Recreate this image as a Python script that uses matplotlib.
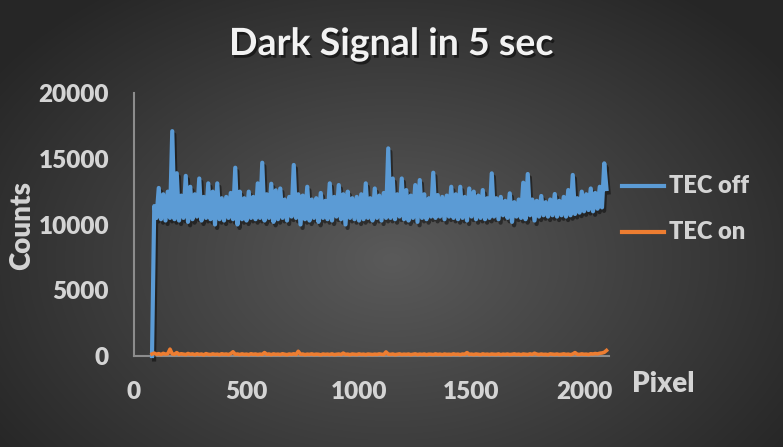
import numpy as np
import matplotlib
matplotlib.use("Agg")
import matplotlib.pyplot as plt
from matplotlib.lines import Line2D
import matplotlib.patheffects as pe

plt.rcParams['font.family'] = ['Lato', 'DejaVu Sans']

title = "Dark Signal in 5 sec"
series_names = ["TEC off", "TEC on"]
x_label = "Pixel"
y_label = "Counts"
x_ticks = [0, 500, 1000, 1500, 2000]
y_ticks = [0, 5000, 10000, 15000, 20000]

# pixel positions sampled every 10 pixels from 80 to 2100
pixels = np.arange(80, 2101, 10)

tec_off = [
    0, 11400, 10500, 12780, 10400, 12300, 10300, 12500, 10500, 17100,
    10400, 13900, 10300, 12200, 10500, 13700, 10200, 12870, 10400, 12300,
    10600, 13500, 10300, 12100, 10500, 13130, 10400, 12500, 10000, 13130,
    10400, 12000, 10300, 12100, 10500, 12400, 10400, 14320, 10000, 12500,
    10400, 12000, 10300, 12500, 10500, 12100, 10400, 13130, 10500, 14700,
    10300, 12300, 10500, 13100, 10200, 12600, 10400, 12740, 10500, 11900,
    10300, 12100, 10600, 14530, 10500, 12300, 10000, 12200, 10400, 12870,
    10300, 11900, 10500, 12000, 10200, 12400, 10500, 11800, 10400, 13130,
    10300, 12100, 10600, 13000, 10400, 12300, 10000, 12500, 10500, 12000,
    10400, 12100, 10300, 12300, 10400, 13130, 10500, 12000, 10300, 12740,
    10500, 12200, 10300, 12400, 10500, 15790, 10500, 13500, 10400, 12300,
    10600, 13500, 10400, 12620, 10300, 12200, 10500, 13000, 10200, 13380,
    10500, 12300, 10400, 12000, 10600, 13940, 10500, 12240, 10600, 12100,
    10400, 12200, 10600, 12870, 10500, 12300, 10400, 12870, 10500, 12100,
    10300, 12740, 10600, 12500, 10400, 12200, 10500, 12620, 10400, 12000,
    10500, 13890, 10600, 12000, 10400, 12100, 10700, 11800, 10500, 12370,
    10200, 11700, 10600, 11900, 10500, 13180, 10400, 13840, 10700, 11900,
    10300, 11800, 10600, 12170, 10700, 11700, 10600, 11900, 10700, 12320,
    10600, 11800, 10700, 12100, 10600, 12620, 10700, 13770, 10800, 12000,
    10900, 12500, 11000, 12300, 11100, 12740, 11000, 12400, 11200, 12870,
    11300, 14650, 12700,
]

tec_on = [
    150, 220, 130, 180, 110, 200, 140, 170, 520, 160,
    130, 260, 120, 170, 140, 110, 190, 130, 160, 100,
    170, 120, 150, 90, 180, 130, 110, 160, 120, 140,
    100, 170, 130, 150, 110, 180, 320, 130, 150, 110,
    160, 120, 140, 100, 170, 130, 150, 110, 140, 120,
    260, 130, 150, 100, 160, 120, 140, 110, 170, 130,
    100, 150, 120, 170, 110, 360, 130, 150, 100, 140,
    120, 160, 110, 140, 130, 90, 150, 120, 140, 110,
    160, 100, 130, 150, 110, 220, 120, 140, 100, 150,
    130, 110, 160, 120, 140, 100, 150, 130, 110, 140,
    120, 160, 130, 110, 310, 140, 120, 150, 100, 130,
    160, 110, 140, 120, 150, 100, 130, 160, 110, 140,
    120, 150, 100, 140, 130, 110, 160, 120, 140, 100,
    150, 120, 130, 110, 160, 120, 140, 100, 150, 130,
    260, 120, 140, 110, 150, 130, 100, 160, 120, 140,
    110, 150, 130, 120, 160, 100, 140, 120, 150, 110,
    130, 160, 120, 140, 100, 150, 130, 110, 160, 120,
    210, 140, 110, 150, 120, 130, 100, 160, 140, 120,
    150, 110, 130, 160, 120, 140, 100, 150, 260, 130,
    120, 160, 130, 140, 110, 170, 150, 190, 160, 210,
    230, 280, 420,
]

colors = ["#5b9bd5", "#ed7d31"]
text_color = "#d4d4d4"

W, H = 783, 447
fig = plt.figure(figsize=(W / 100, H / 100), dpi=100)

# radial gradient background
bg = fig.add_axes([0, 0, 1, 1], zorder=-10)
yy, xx = np.mgrid[0:H, 0:W]
r = np.sqrt(((xx - W * 0.5) / (W * 0.62)) ** 2 + ((yy - H * 0.58) / (H * 0.75)) ** 2)
r = np.clip(r, 0, 1)
inner = np.array([0x5a, 0x5a, 0x5a]) / 255.0
outer = np.array([0x26, 0x26, 0x26]) / 255.0
img = inner[None, None, :] * (1 - r[..., None]) + outer[None, None, :] * r[..., None]
bg.imshow(img, aspect='auto', extent=[0, 1, 0, 1], origin='upper')
bg.axis('off')

ax = fig.add_axes([134 / W, (H - 356) / H, (608.75 - 134) / W, 263 / H])
ax.patch.set_alpha(0)

shadow = [pe.SimpleLineShadow(offset=(1.5, -2.5), shadow_color='black', alpha=0.45), pe.Normal()]
ax.plot(pixels, tec_off, color=colors[0], lw=3.0, solid_joinstyle='round',
        path_effects=shadow, clip_on=False, zorder=3)
ax.plot(pixels, tec_on, color=colors[1], lw=2.6, solid_joinstyle='round',
        clip_on=False, zorder=4)

ax.set_xlim(0, 2110)
ax.set_ylim(0, 20000)
ax.set_xticks(x_ticks)
ax.set_yticks(y_ticks)
ax.set_xticklabels([str(v) for v in x_ticks])
ax.set_yticklabels([str(v) for v in y_ticks])
for s in ['top', 'right']:
    ax.spines[s].set_visible(False)
for s in ['left', 'bottom']:
    ax.spines[s].set_color('#8c8c8c')
    ax.spines[s].set_linewidth(1.5)
ax.tick_params(axis='both', length=0, colors=text_color, labelsize=17.5)
ax.tick_params(axis='y', pad=18)
ax.tick_params(axis='x', pad=18)
for lab in ax.get_xticklabels() + ax.get_yticklabels():
    lab.set_fontweight('heavy')

fig.text(391 / W, 1 - 44 / H, title, ha='center', va='center', fontsize=27,
         fontweight='bold', color='#f2f2f2',
         path_effects=[pe.withSimplePatchShadow(offset=(1.5, -2), shadow_rgbFace='black', alpha=0.5)])
fig.text(22 / W, 1 - 226 / H, y_label, rotation=90, ha='center', va='center',
         fontsize=20, fontweight='heavy', color=text_color)
fig.text(632 / W, 1 - 384 / H, x_label, ha='left', va='center',
         fontsize=20, fontweight='heavy', color=text_color)

# legend
for i, (name, c) in enumerate(zip(series_names, colors)):
    yv = 1 - (186 + i * 46) / H
    fig.add_artist(Line2D([622 / W, 664 / W], [yv, yv], color=c, lw=3,
                          transform=fig.transFigure))
    fig.text(669 / W, yv, name, ha='left', va='center', fontsize=17,
             fontweight='heavy', color=text_color)

fig.savefig("out.png", dpi=100)
